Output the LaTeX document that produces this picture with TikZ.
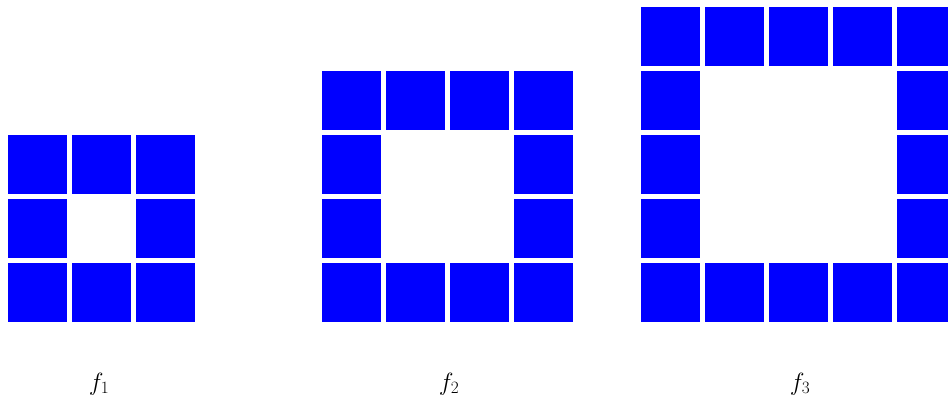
\documentclass[tikz,border=0pt]{standalone}
\newcommand\squarering[2]{% #1 = cells per side, #2 = left edge
  \pgfmathtruncatemacro\last{#1-1}
  \pgfmathtruncatemacro\inner{#1-2}
  \foreach \i in {0,...,\last}{
    \fill[cell] (#2+64*\i,81) rectangle ++(59,59);
    \fill[cell] (#2+64*\i,81+64*\last) rectangle ++(59,59);
  }
  \foreach \j in {1,...,\inner}{
    \fill[cell] (#2,81+64*\j) rectangle ++(59,59);
    \fill[cell] (#2+64*\last,81+64*\j) rectangle ++(59,59);
  }
}
\begin{document}
\begin{tikzpicture}[x=1pt,y=1pt]
	\tikzset{cell/.style={fill={rgb,255:red,0;green,0;blue,255}},
		lbl/.style={font=\fontsize{23}{26}\selectfont}}
	\useasboundingbox (0,0) rectangle (948,403);
	\clip (0,0) rectangle (948,403);
	\squarering{3}{8}
	\squarering{4}{321.5}
	\squarering{5}{641}
	\node[lbl] (f1) at (99,19) {$f_1$};
	\node[lbl] (f2) at (449,19) {$f_2$};
	\node[lbl] (f3) at (800,19) {$f_3$};
\end{tikzpicture}
\end{document}
